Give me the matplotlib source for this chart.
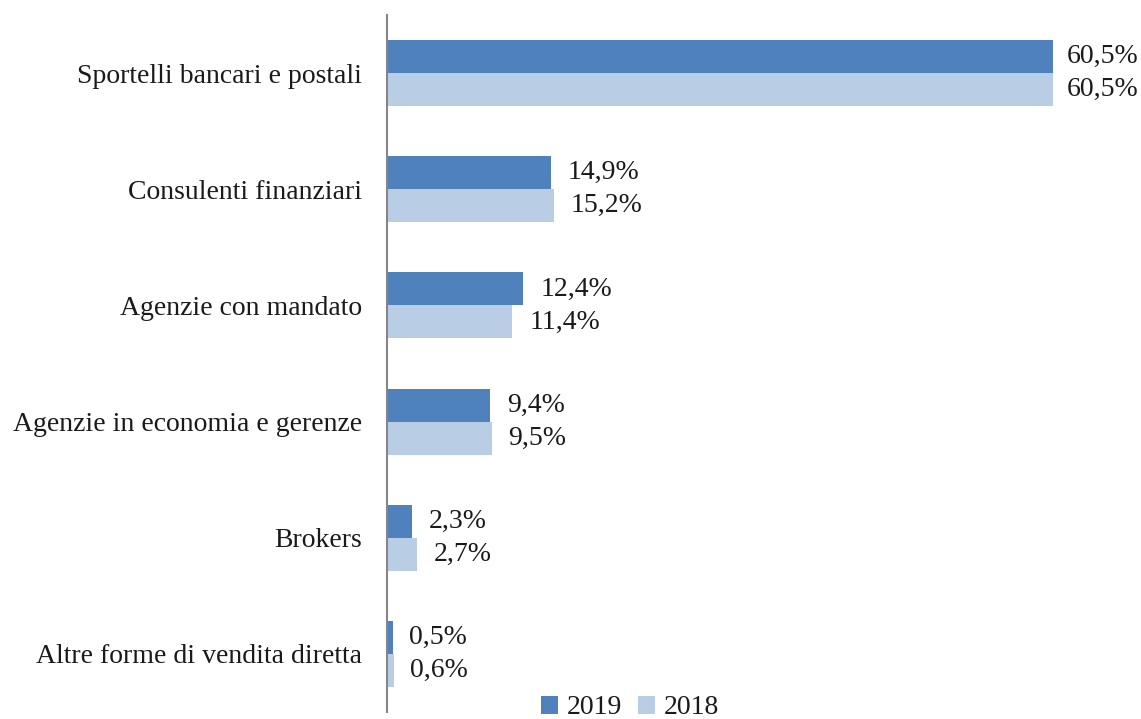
import matplotlib
matplotlib.use("Agg")
import matplotlib.pyplot as plt
import numpy as np

categories = ["Sportelli bancari e postali", "Consulenti finanziari", "Agenzie con mandato",
              "Agenzie in economia e gerenze", "Brokers", "Altre forme di vendita diretta"]
values_2019 = [60.5, 14.9, 12.4, 9.4, 2.3, 0.5]
values_2018 = [60.5, 15.2, 11.4, 9.5, 2.7, 0.6]
series_labels = ["2019", "2018"]

plt.rcParams['font.family'] = ['Liberation Serif', 'DejaVu Serif']

W, H = 1141, 719
fig = plt.figure(figsize=(W/100, H/100), dpi=100)
ax = fig.add_axes([387/W, 1 - 712/H, (W-387)/W, (712-15)/H])

n = len(categories)
y = np.arange(n)
h = 0.284
c19 = "#4F81BD"
c18 = "#B9CDE5"
txt = "#1a1a1a"
b1 = ax.barh(y - h/2, values_2019, height=h, color=c19, label=series_labels[0])
b2 = ax.barh(y + h/2, values_2018, height=h, color=c18, label=series_labels[1])

def fmt(v):
    return f"{v:.1f}%".replace(".", ",")

annots = []
for bars, vals in ((b1, values_2019), (b2, values_2018)):
    for rect, v in zip(bars, vals):
        a = ax.annotate(fmt(v), (rect.get_width(), rect.get_y() + rect.get_height()/2),
                        xytext=(12, 0), textcoords="offset points", va="center", ha="left",
                        fontsize=20, color=txt)
        annots.append(a)

ax.set_ylim(n - 0.5, -0.5)
ax.set_xlim(0, 68.5)
ax.set_yticks(y)
ax.set_yticklabels(categories, fontsize=20, color=txt)
ax.tick_params(axis='y', length=0, pad=18)
ax.set_xticks([])
for s in ["top", "right", "bottom"]:
    ax.spines[s].set_visible(False)
ax.spines["left"].set_color("#868686")
ax.spines["left"].set_linewidth(1.5)

fig.legend(handles=[b1, b2], labels=series_labels, loc="center", bbox_to_anchor=(630/W, 1 - 708/H),
           ncol=2, frameon=False, fontsize=20, handlelength=0.6, handleheight=0.6,
           handletextpad=0.3, columnspacing=0.6, labelcolor=txt)

# keep labels inside the figure (like the source chart does)
fig.canvas.draw()
r = fig.canvas.get_renderer()
for a in annots:
    bb = a.get_window_extent(r)
    over = bb.x1 - (W - 3)
    if over > 0:
        x0, y0 = a.xyann
        a.xyann = (x0 - over * 72 / 100, y0)

fig.savefig("out.png", dpi=100)
